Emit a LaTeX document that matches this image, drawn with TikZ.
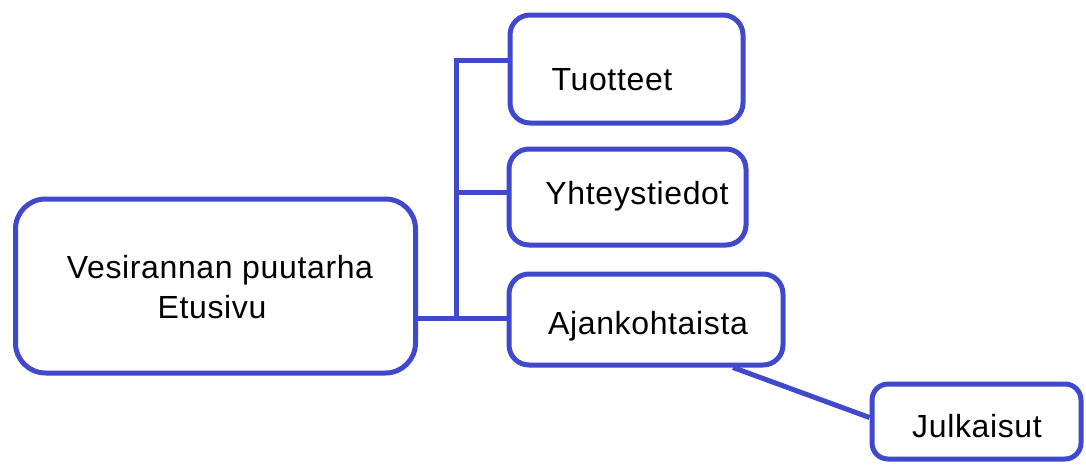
\documentclass[tikz,border=0pt]{standalone}
\usepackage{fontspec}
\setmainfont{Liberation Sans}[LetterSpace=2]
\definecolor{boxblue}{RGB}{64,72,204}
\begin{document}
\begin{tikzpicture}[x=1pt,y=-1pt,
  box/.style={draw=boxblue,line width=5pt,rectangle,rounded corners=20pt,inner sep=0pt},
  lbl/.style={anchor=base,inner sep=0pt,font=\fontsize{32}{41}\selectfont},
  conn/.style={draw=boxblue,line width=5pt}]
\useasboundingbox (0,0) rectangle (1086,466);
\node[box,rounded corners=30pt,minimum width=400pt,minimum height=174pt] (main) at (215.5,286) {};
\node[box,minimum width=233pt,minimum height=108pt] (tuo) at (626.5,69) {};
\node[box,minimum width=237pt,minimum height=96pt] (yht) at (627.5,197) {};
\node[box,minimum width=274pt,minimum height=91pt] (ajk) at (646,319.5) {};
\node[box,rounded corners=16pt,minimum width=209pt,minimum height=75pt] (jul) at (976.5,421.5) {};
\node[lbl] (t1) at (220,278) {Vesirannan puutarha};
\node[lbl] (t2) at (212,318) {Etusivu};
\node[lbl] (t3) at (612,90) {Tuotteet};
\node[lbl] (t4) at (637,204) {Yhteystiedot};
\node[lbl] (t5) at (648,334) {Ajankohtaista};
\node[lbl] (t6) at (977,437) {Julkaisut};
\coordinate (bj) at (456,318);
\coordinate (bt) at (456,60);
\coordinate (by) at (456,192);
\draw[conn] (main.east |- bj) -- (bj);
\draw[conn,line cap=rect] (bt) -- (bj);
\draw[conn] (bt) -- (tuo.west |- bt);
\draw[conn] (by) -- (yht.west |- by);
\draw[conn] (bj) -- (ajk.west |- bj);
\draw[conn] ([xshift=87pt]ajk.south) -- ([yshift=4pt]jul.west);
\end{tikzpicture}
\end{document}
